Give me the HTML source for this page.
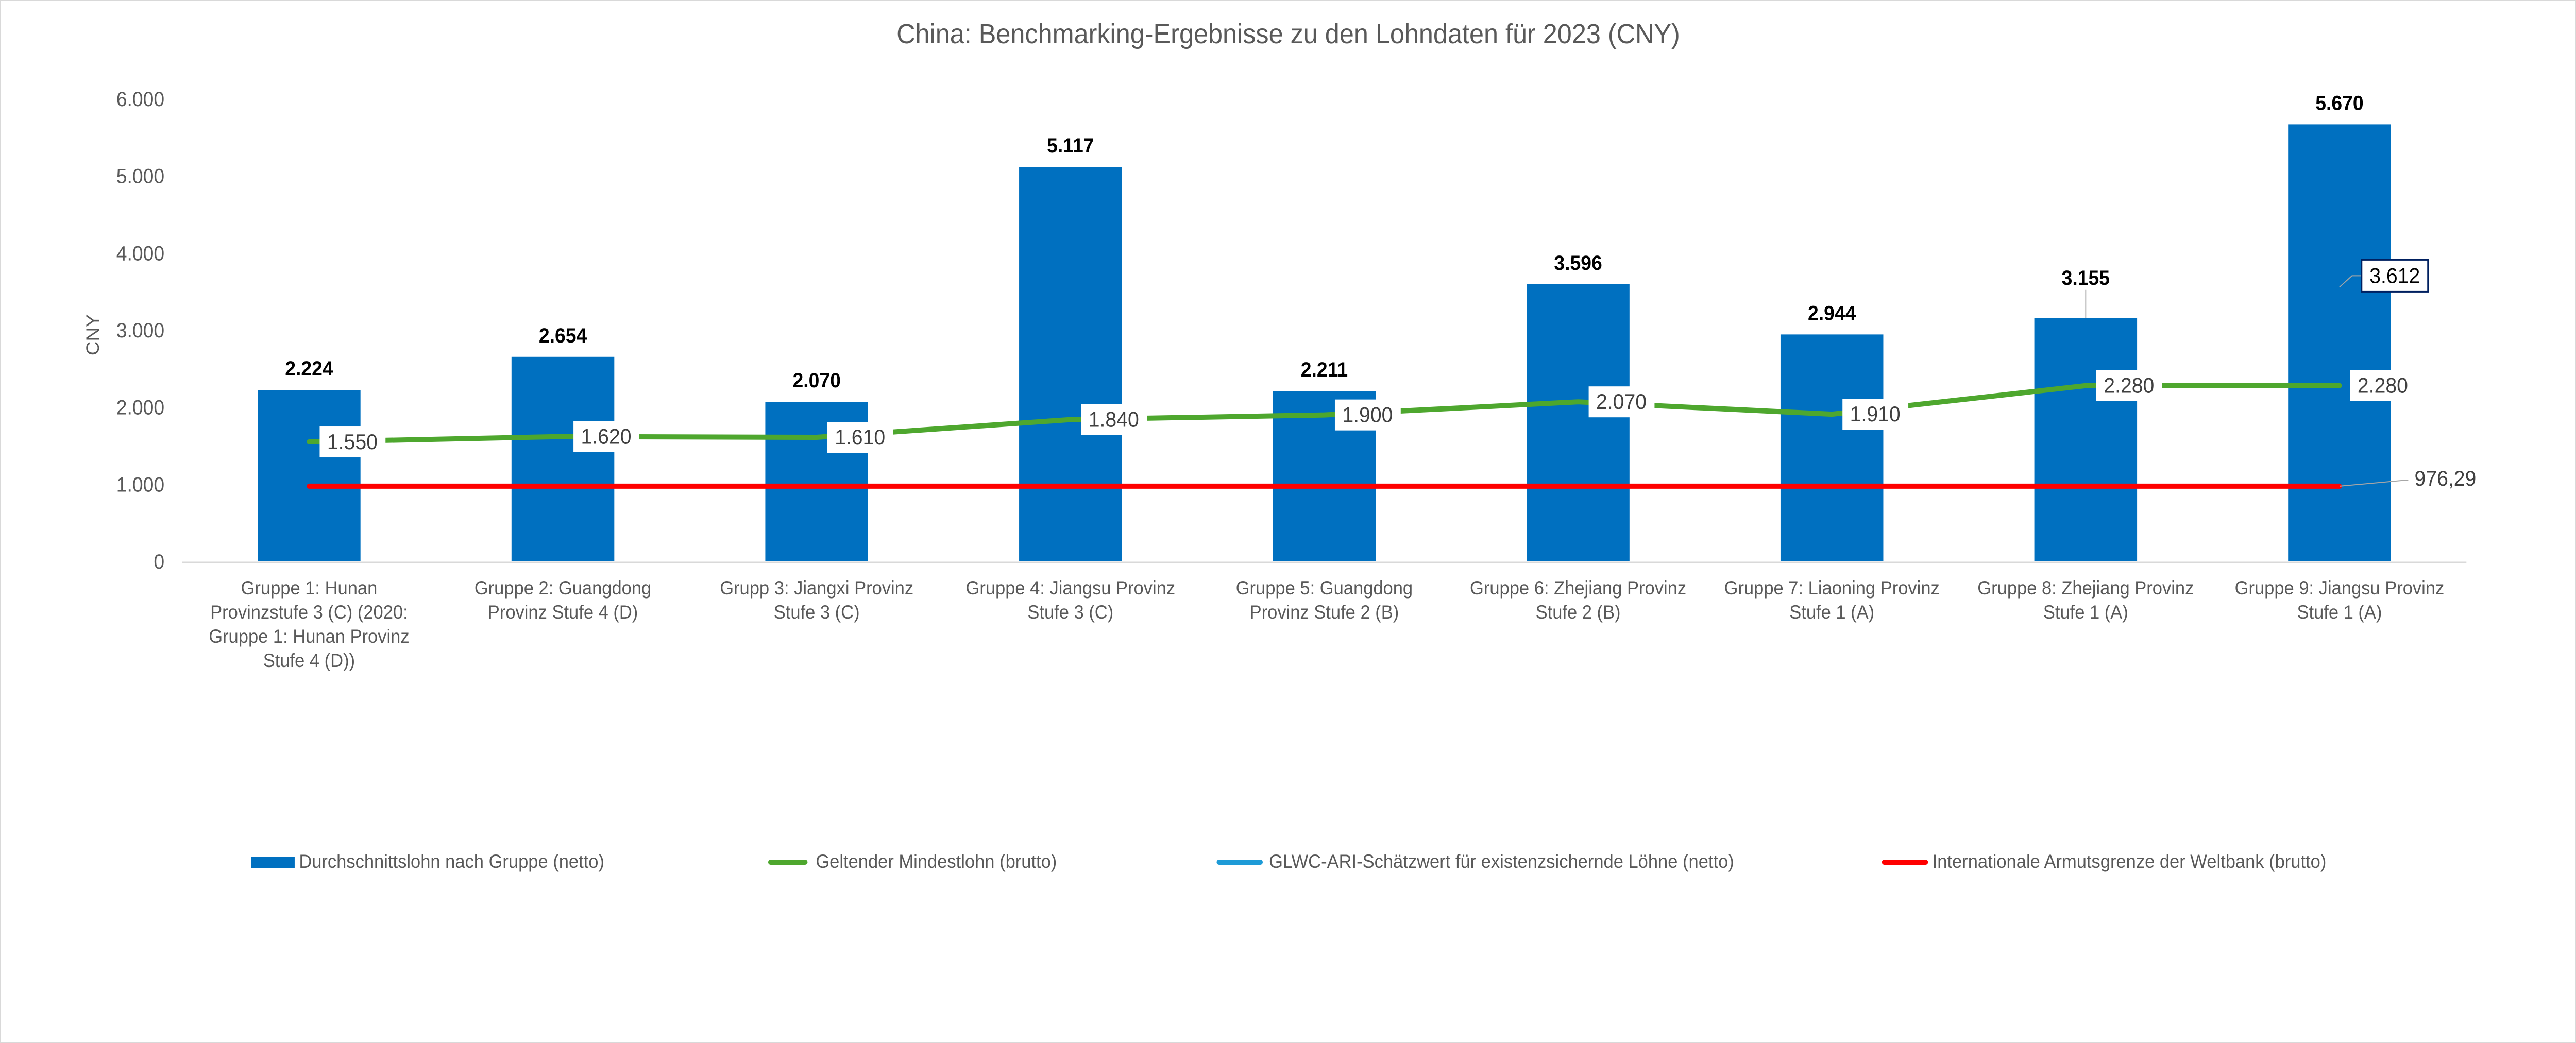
<!DOCTYPE html>
<html><head><meta charset="utf-8">
<style>
html,body{margin:0;padding:0;background:#fff;overflow:hidden;width:100vw;height:100vh;}
svg{display:block;font-family:"Liberation Sans",sans-serif;width:100vw;height:100vh;}
</style></head>
<body>
<svg id="chart" viewBox="0 0 5359 2025" preserveAspectRatio="none" xmlns="http://www.w3.org/2000/svg">
<rect x="1" y="1" width="5357" height="2023" fill="#fff" stroke="#d9d9d9" stroke-width="2"/>
<text x="2680" y="84" text-anchor="middle" font-size="54" fill="#595959">China: Benchmarking-Ergebnisse zu den Lohndaten für 2023 (CNY)</text>
<text transform="translate(206,650) rotate(-90)" text-anchor="middle" font-size="38" fill="#595959">CNY</text>
<g id="grid"></g>
<g id="bars"></g>
<g id="lines"></g>
<g id="labels"></g>
<g id="xlabels"></g>
<g id="legend" font-size="37" fill="#595959">
  <rect x="523" y="1663" width="90" height="23" fill="#0070C0"/>
  <text x="622" y="1685">Durchschnittslohn nach Gruppe (netto)</text>
  <line x1="1603" y1="1674" x2="1675" y2="1674" stroke="#4EA72E" stroke-width="10" stroke-linecap="round"/>
  <text x="1697" y="1685">Geltender Mindestlohn (brutto)</text>
  <line x1="2536" y1="1674" x2="2622" y2="1674" stroke="#1E9BD7" stroke-width="10" stroke-linecap="round"/>
  <text x="2640" y="1685">GLWC-ARI-Schätzwert für existenzsichernde Löhne (netto)</text>
  <line x1="3920" y1="1674" x2="4006" y2="1674" stroke="#FF0000" stroke-width="10" stroke-linecap="round"/>
  <text x="4020" y="1685">Internationale Armutsgrenze der Weltbank (brutto)</text>
</g>
</svg>
<script>
const categories = [
 ["Gruppe 1: Hunan","Provinzstufe 3 (C) (2020:","Gruppe 1: Hunan Provinz","Stufe 4 (D))"],
 ["Gruppe 2: Guangdong","Provinz Stufe 4 (D)"],
 ["Grupp 3: Jiangxi Provinz","Stufe 3 (C)"],
 ["Gruppe 4: Jiangsu Provinz","Stufe 3 (C)"],
 ["Gruppe 5: Guangdong","Provinz Stufe 2 (B)"],
 ["Gruppe 6: Zhejiang Provinz","Stufe 2 (B)"],
 ["Gruppe 7: Liaoning Provinz","Stufe 1 (A)"],
 ["Gruppe 8:  Zhejiang Provinz","Stufe 1 (A)"],
 ["Gruppe 9: Jiangsu Provinz","Stufe 1 (A)"]
];
const avgWage = [2224,2654,2070,5117,2211,3596,2944,3155,5670];
const avgWageLabels = ["2.224","2.654","2.070","5.117","2.211","3.596","2.944","3.155","5.670"];
const minWage = [1550,1620,1610,1840,1900,2070,1910,2280,2280];
const minWageLabels = ["1.550","1.620","1.610","1.840","1.900","2.070","1.910","2.280","2.280"];
const livingWage = [null,null,null,null,null,null,null,null,3612];
const livingWageLabels = ["","","","","","","","","3.612"];
const povertyLine = [976.29,976.29,976.29,976.29,976.29,976.29,976.29,976.29,976.29];
const povertyLabel = "976,29";
const yTicks = [0,1000,2000,3000,4000,5000,6000];
const yTickLabels = ["0","1.000","2.000","3.000","4.000","5.000","6.000"];

const NS="http://www.w3.org/2000/svg";
const X0=379, X1=5131, Y0=1090, YMAX=6000, YTOP=192;
const band=(X1-X0)/categories.length;
function xC(i){return X0+band*(i+0.5);}
function yV(v){return Y0-(v/YMAX)*(Y0-YTOP);}
function mk(tag,attrs,parent){const e=document.createElementNS(NS,tag);for(const k in attrs)e.setAttribute(k,attrs[k]);parent.appendChild(e);return e;}
const grid=document.getElementById('grid'),bars=document.getElementById('bars'),lines=document.getElementById('lines'),labels=document.getElementById('labels'),xl=document.getElementById('xlabels');

yTicks.forEach((t,i)=>{
 const tx=mk('text',{x:342,y:yV(t)+14,'text-anchor':'end','font-size':40,fill:'#595959'},grid);
 tx.textContent=yTickLabels[i];
 
 
});
const ax=mk('line',{x1:X0,y1:Y0+2,x2:X1,y2:Y0+2,stroke:'#d9d9d9','stroke-width':3},grid);



const bw=band*0.405;
avgWage.forEach((v,i)=>{
 const r=mk('rect',{x:xC(i)-bw/2,y:yV(v),width:bw,height:Y0-yV(v),fill:'#0070C0'},bars);
 
 
 const t=mk('text',{x:xC(i),y:yV(v)-(i===7?65:28),'text-anchor':'middle','font-size':40,'font-weight':'bold',fill:'#000'},labels);
 t.textContent=avgWageLabels[i];
 
 
 if(i===7){const l=mk('line',{x1:xC(i),y1:yV(v)-55,x2:xC(i),y2:yV(v),stroke:'#a6a6a6','stroke-width':2},labels);
  
  }
 categories[i].forEach((ln,j)=>{
  const tt=mk('text',{x:xC(i),y:1154+j*47,'text-anchor':'middle','font-size':37,fill:'#595959'},xl);
  tt.textContent=ln;
  
  
 });
});

const pp=povertyLine.map((v,i)=>xC(i)+','+yV(v)).join(' ');
const pl=mk('polyline',{points:pp,fill:'none',stroke:'#FF0000','stroke-width':10,'stroke-linecap':'round'},lines);


const mp=minWage.map((v,i)=>xC(i)+','+yV(v)).join(' ');
const ml=mk('polyline',{points:mp,fill:'none',stroke:'#4EA72E','stroke-width':10,'stroke-linecap':'round','stroke-linejoin':'round'},lines);



minWage.forEach((v,i)=>{
 const bx=xC(i)+22, by=yV(v)-30;
 const r=mk('rect',{x:bx,y:by,width:137,height:60,fill:'#fff'},labels);
 
 
 const t=mk('text',{x:bx+68,y:by+44,'text-anchor':'middle','font-size':42,fill:'#404040'},labels);
 t.textContent=minWageLabels[i];
 
 
});

livingWage.forEach((v,i)=>{
 if(v===null)return;
 const px=xC(i), py=yV(v);
 const l=mk('polyline',{points:(px)+','+(py+8)+' '+(px+26)+','+(py-14)+' '+(px+44)+','+(py-14),fill:'none',stroke:'#a6a6a6','stroke-width':2},labels);
 
 
 const r=mk('rect',{x:px+46,y:py-45,width:138,height:62,fill:'#fff',stroke:'#002060','stroke-width':3},labels);
 
 
 const t=mk('text',{x:px+115,y:py,'text-anchor':'middle','font-size':42,fill:'#000'},labels);
 t.textContent=livingWageLabels[i];
 
 
});

const lx=xC(8), ly=yV(povertyLine[8]);
const pll=mk('polyline',{points:lx+','+ly+' '+(lx+130)+','+(ly-11)+' '+(lx+143)+','+(ly-11),fill:'none',stroke:'#a6a6a6','stroke-width':2},labels);


const pt=mk('text',{x:lx+156,y:ly-1,'font-size':42,fill:'#404040'},labels);
pt.textContent=povertyLabel;


</script>
</body></html>
